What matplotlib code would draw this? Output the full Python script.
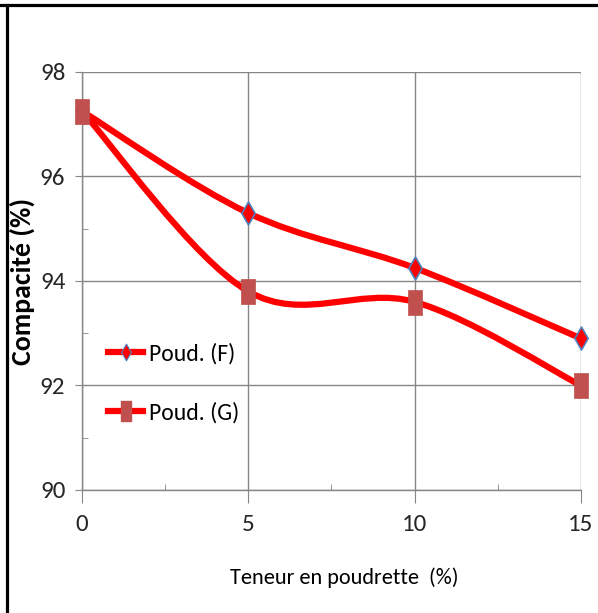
import matplotlib.pyplot as plt
import numpy as np
from matplotlib.path import Path
from matplotlib.patches import PathPatch
from matplotlib.lines import Line2D

plt.rcParams['font.family'] = ['Carlito', 'DejaVu Sans']

# compactness vs. powder content
teneur = [0, 5, 10, 15]
poud_f = [97.25, 95.30, 94.25, 92.90]
poud_g = [97.25, 93.80, 93.60, 92.00]
labels = ['Poud. (F)', 'Poud. (G)']

RED = '#FF0000'
SQ = '#C0504D'
GRID = '#868686'

# tall markers (the chart is drawn a bit stretched vertically)
diamond = Path([(0, 1), (0.58, 0), (0, -1), (-0.58, 0), (0, 1)],
               [Path.MOVETO, Path.LINETO, Path.LINETO, Path.LINETO, Path.CLOSEPOLY])
rect = Path([(-0.56, -1), (0.56, -1), (0.56, 1), (-0.56, 1), (-0.56, -1)],
            [Path.MOVETO, Path.LINETO, Path.LINETO, Path.LINETO, Path.CLOSEPOLY])


def smooth_path(x, y):
    # excel-style smoothed line: cubic bezier through each point
    pts = np.column_stack([x, y]).astype(float)
    n = len(pts)
    verts = [pts[0]]
    codes = [Path.MOVETO]
    for i in range(n - 1):
        p0 = pts[max(i - 1, 0)]
        p1 = pts[i]
        p2 = pts[i + 1]
        p3 = pts[min(i + 2, n - 1)]
        c1 = p1 + (p2 - p0) / 6
        c2 = p2 - (p3 - p1) / 6
        verts += [c1, c2, p2]
        codes += [Path.CURVE4] * 3
    return Path(verts, codes)


fig = plt.figure(figsize=(5.98, 6.13), dpi=100)
ax = fig.add_axes([0.1371, 0.2007, 0.8344, 0.6819])

ax.add_patch(PathPatch(smooth_path(teneur, poud_f), fill=False, edgecolor=RED,
                       lw=4.5, capstyle='round', zorder=3))
ax.add_patch(PathPatch(smooth_path(teneur, poud_g), fill=False, edgecolor=RED,
                       lw=4.5, capstyle='round', zorder=3))
ax.plot(teneur, poud_f, ls='none', marker=diamond, ms=16.5, mfc=RED,
        mec='#4F81BD', mew=1.2, zorder=4, clip_on=False)
ax.plot(teneur, poud_g, ls='none', marker=rect, ms=18, mfc=SQ,
        mec=SQ, mew=0.5, zorder=4, clip_on=False)

ax.set_xlim(0, 15)
ax.set_ylim(90, 98)
ax.set_xticks([0, 5, 10, 15])
ax.set_yticks([90, 92, 94, 96, 98])
ax.set_xticks([2.5, 7.5, 12.5], minor=True)
ax.set_yticks([91, 93, 95, 97], minor=True)
ax.grid(True, which='major', color=GRID, lw=1)
ax.set_axisbelow(True)
for s in ['top', 'right']:
    ax.spines[s].set_visible(False)
for s in ['left', 'bottom']:
    ax.spines[s].set_color(GRID)
    ax.spines[s].set_linewidth(1)
ax.tick_params(axis='x', which='major', length=9, color=GRID, pad=8,
               labelsize=18, labelcolor='#262626')
ax.tick_params(axis='y', which='major', length=5, color=GRID, pad=7,
               labelsize=18, labelcolor='#262626')
ax.tick_params(which='minor', direction='in', length=4, color=GRID)

ax.set_xlabel('Teneur en poudrette  (%)', fontsize=16)
ax.set_ylabel('Compacité (%)', fontsize=20, fontweight='bold')
ax.xaxis.set_label_coords(0.525, -0.185)
ax.yaxis.set_label_coords(-0.095, 0.5)

handles = [
    Line2D([], [], color=RED, lw=4.5, marker=diamond, ms=12, mfc=RED,
           mec='#4F81BD', mew=0.8),
    Line2D([], [], color=RED, lw=4.5, marker=rect, ms=14, mfc=SQ, mec=SQ),
]
ax.legend(handles, labels, loc='upper left', bbox_to_anchor=(0.052, 0.352),
          frameon=False, fontsize=17, handlelength=1.5, handletextpad=0.25,
          labelspacing=1.6, borderpad=0, borderaxespad=0)

# outer frame lines
fig.add_artist(Line2D([0, 1], [0.9918, 0.9918], color='black', lw=2.3,
                      transform=fig.transFigure))
fig.add_artist(Line2D([0.0109, 0.0109], [0, 0.9918], color='black', lw=2.3,
                      transform=fig.transFigure))

fig.savefig('out.png', dpi=100)
